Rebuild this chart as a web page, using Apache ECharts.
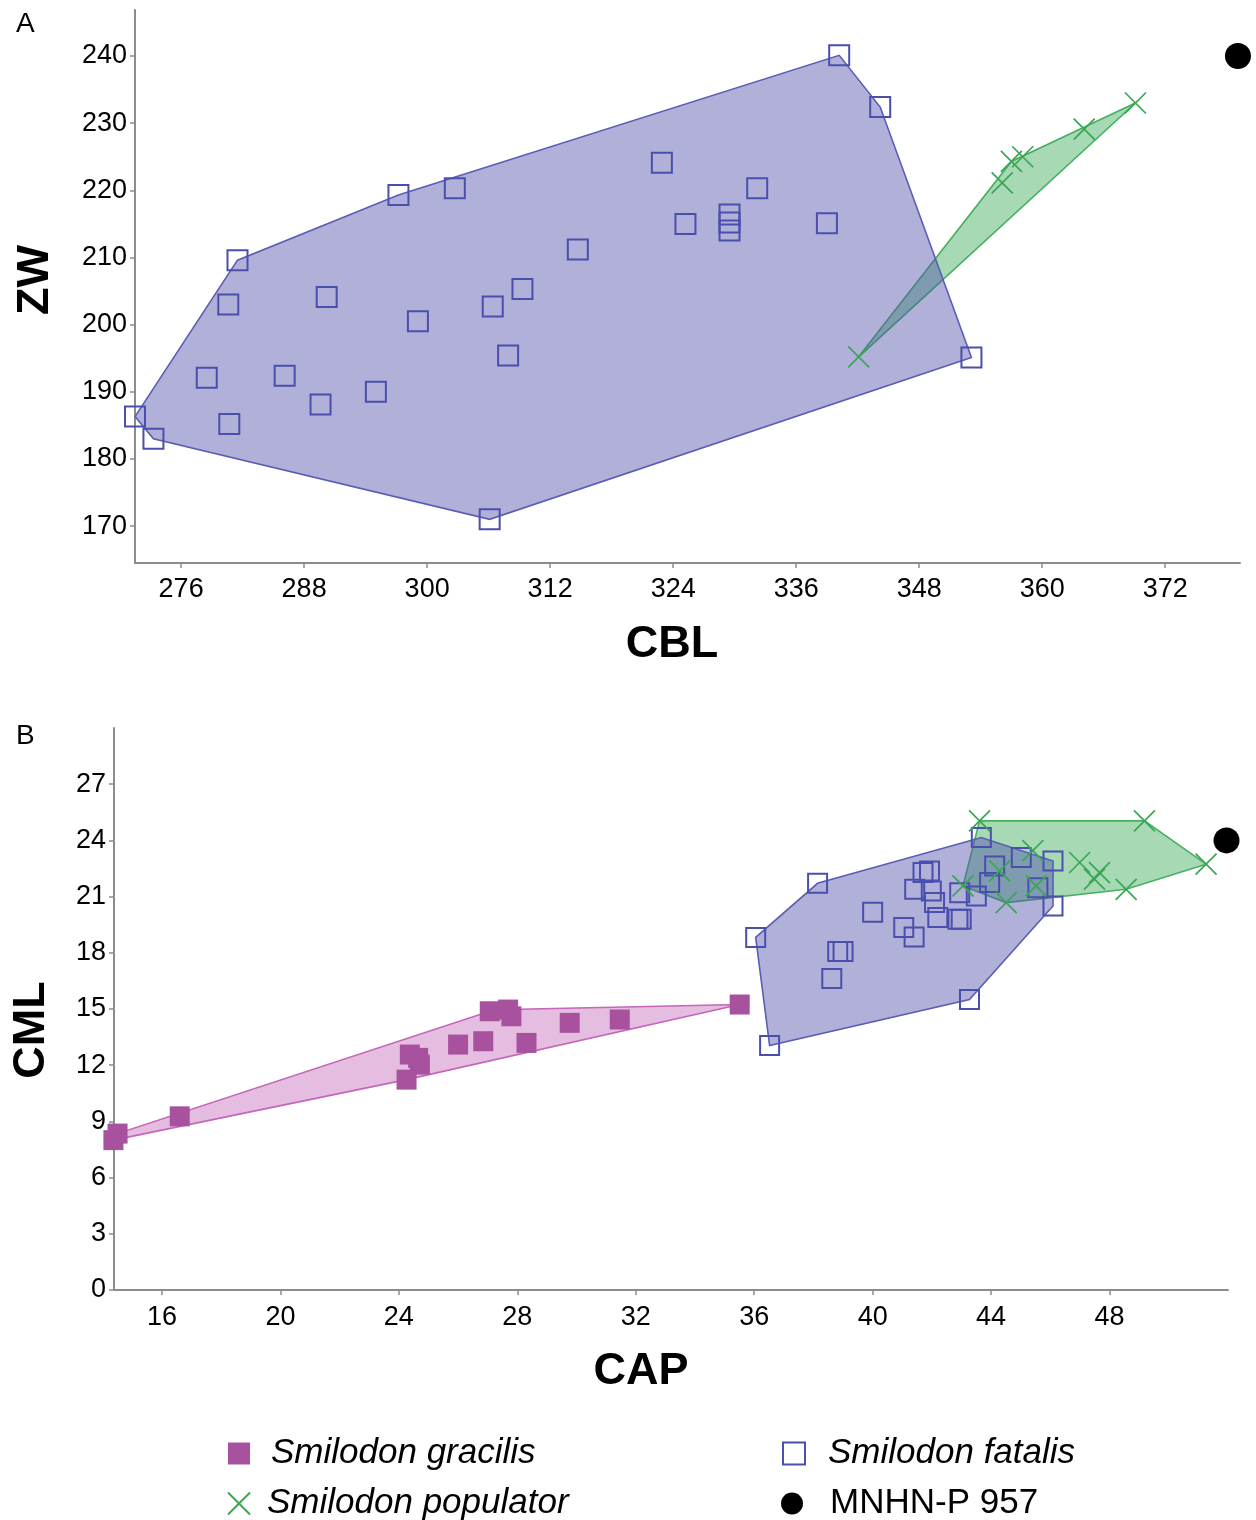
<!DOCTYPE html>
<html><head><meta charset="utf-8">
<script src="https://cdn.jsdelivr.net/npm/echarts@6/dist/echarts.min.js"></script>
<style>html,body{margin:0;padding:0;background:#fff}#c{width:1256px;height:1520px}</style>
</head><body><div id="c"></div>
<script>
// ---------- Panel A : CBL vs ZW ----------
const fatalisA = [[271.5,186.3],[273.3,183.0],[281.5,209.6],[280.6,203.0],[278.5,192.1],[280.7,185.2],[286.1,192.4],[290.2,204.1],[289.6,188.1],[295.0,190.0],[297.2,219.3],[299.1,200.5],[302.7,220.3],[306.1,171.0],[306.4,202.7],[307.9,195.4],[309.3,205.3],[314.7,211.2],[322.9,224.1],[325.2,215.0],[329.5,216.4],[329.5,215.2],[329.5,214.0],[332.2,220.3],[339.0,215.1],[340.2,240.1],[344.2,232.4],[353.1,195.1]];
const populatorA = [[342.1,195.2],[356.1,221.1],[357.0,224.3],[358.1,225.0],[364.1,229.1],[369.1,233.0]];
const mnhnA = [[379.1,240.0]];
const xTicksA = [276,288,300,312,324,336,348,360,372];
const yTicksA = [170,180,190,200,210,220,230,240];

// ---------- Panel B : CAP vs CML ----------
const gracilisB = [[14.36,8.0],[14.5,8.35],[16.6,9.27],[24.26,11.23],[24.37,12.57],[24.65,12.39],[24.71,12.03],[26.0,13.1],[26.85,13.28],[27.07,14.88],[27.69,14.97],[27.8,14.61],[28.31,13.19],[29.77,14.26],[31.46,14.44],[35.51,15.24]];
const fatalisB = [[36.05,18.82],[36.52,13.05],[38.14,21.71],[38.62,16.63],[38.82,18.07],[39.0,18.07],[40.0,20.16],[41.05,19.35],[41.4,18.85],[41.42,21.39],[41.7,22.28],[41.92,22.37],[41.98,21.3],[42.09,20.68],[42.2,19.88],[42.88,19.79],[42.99,19.79],[42.94,21.21],[43.5,21.03],[43.67,24.15],[44.12,22.64],[43.95,21.75],[45.02,23.09],[45.58,21.47],[46.09,22.9],[46.09,20.5],[43.27,15.51]];
const populatorB = [[43.61,25.04],[49.18,25.04],[51.26,22.73],[48.56,21.39],[46.99,22.82],[47.66,22.28],[47.49,21.93],[44.51,20.68],[43.05,21.57],[45.41,23.45],[44.29,22.37],[45.52,21.57]];
const mnhnB = [[51.95,24.0]];
const xTicksB = [16,20,24,28,32,36,40,44,48];
const yTicksB = [0,3,6,9,12,15,18,21,24,27];

const NAMES = {grac:'Smilodon gracilis', pop:'Smilodon populator', fat:'Smilodon fatalis', mn:'MNHN-P 957'};
const FONT = '"Liberation Sans", Arial, sans-serif';

function convexHull(points){
  const p = points.slice().sort((a,b)=>a[0]-b[0]||a[1]-b[1]);
  const cross=(o,a,b)=>(a[0]-o[0])*(b[1]-o[1])-(a[1]-o[1])*(b[0]-o[0]);
  const lower=[];
  for(const q of p){while(lower.length>=2&&cross(lower[lower.length-2],lower[lower.length-1],q)<=0)lower.pop();lower.push(q);}
  const upper=[];
  for(let i=p.length-1;i>=0;i--){const q=p[i];while(upper.length>=2&&cross(upper[upper.length-2],upper[upper.length-1],q)<=0)upper.pop();upper.push(q);}
  upper.pop();lower.pop();
  return lower.concat(upper);
}

function hullSeries(pts, gi, fill, stroke){
  const h = convexHull(pts);
  return {
    type:'custom', xAxisIndex:gi, yAxisIndex:gi, silent:true, clip:false,
    data:[h[0]],
    renderItem:(params, api)=>({
      type:'polygon',
      shape:{points:h.map(p=>api.coord(p))},
      style:{fill:fill, stroke:stroke, lineWidth:1.6}
    })
  };
}

const crossPath = 'path://M0,0L20,20M20,0L0,20';
const styles = {
  fat:{symbol:'rect', symbolSize:20, itemStyle:{color:'rgba(255,255,255,0)', borderColor:'#4a4fae', borderWidth:2, opacity:1}},
  pop:{symbol:crossPath, symbolSize:21, itemStyle:{color:'rgba(255,255,255,0)', borderColor:'#3aa655', borderWidth:1.7, opacity:1}},
  grac:{symbol:'rect', symbolSize:20, itemStyle:{color:'#a8529f', opacity:1}},
  mn:{symbol:'circle', symbolSize:26, itemStyle:{color:'#000', opacity:1}}
};
function scatter(key, data, gi, size){
  const s = styles[key];
  return {type:'scatter', name:NAMES[key], xAxisIndex:gi, yAxisIndex:gi, data:data, clip:false,
    symbol:s.symbol, symbolSize:size||s.symbolSize, itemStyle:s.itemStyle, emphasis:{disabled:true}};
}

function valueAxis(gi, min, max, ticks, margin){
  return {
    type:'value', gridIndex:gi, min:min, max:max,
    axisLine:{show:true, onZero:false, lineStyle:{color:'#8c8c8c', width:2}},
    axisTick:{show:true, length:5, customValues:ticks, lineStyle:{color:'#8c8c8c', width:1.5}},
    axisLabel:{customValues:ticks, fontSize:27, color:'#000', fontFamily:FONT, margin:margin},
    splitLine:{show:false}
  };
}

const legendFmt = n => n===NAMES.mn ? '{n|'+n+'}' : '{i|'+n+'}';
function legendOne(name, left, top, pad){
  return {
    data:[name], left:left, top:top, itemWidth:22, itemHeight:22, selectedMode:false,
    formatter:legendFmt,
    textStyle:{fontSize:35, color:'#000', fontFamily:FONT,
      rich:{
        i:{fontSize:35, fontStyle:'italic', fontFamily:FONT, color:'#000', padding:[0,0,0,pad]},
        n:{fontSize:35, fontFamily:FONT, color:'#000', padding:[0,0,0,pad]}
      }}
  };
}

const chart = echarts.init(document.getElementById('c'), null, {renderer:'canvas'});
chart.setOption({
  animation:false,
  backgroundColor:'#fff',
  grid:[
    {left:135, top:10, width:1105, height:553},
    {left:114, top:728, width:1114, height:562}
  ],
  xAxis:[
    valueAxis(0, 271.5, 379.3, xTicksA, 13),
    valueAxis(1, 14.38, 52.0, xTicksB, 14)
  ],
  yAxis:[
    valueAxis(0, 164.5, 246.85, yTicksA, 8),
    valueAxis(1, 0, 30, yTicksB, 8)
  ],
  legend:[
    legendOne(NAMES.grac, 223, 1431, 16),
    legendOne(NAMES.pop, 222, 1481, 12),
    legendOne(NAMES.fat, 777, 1431, 18),
    legendOne(NAMES.mn, 776, 1481, 22)
  ],
  graphic:[
    {type:'text', left:16, top:10, style:{text:'A', fontSize:28, fontFamily:FONT, fill:'#000'}},
    {type:'text', left:16, top:722, style:{text:'B', fontSize:28, fontFamily:FONT, fill:'#000'}},
    {type:'text', x:36, y:280, rotation:Math.PI/2, style:{text:'ZW', fontSize:45, fontWeight:'bold', fontFamily:FONT, fill:'#000', align:'center', verticalAlign:'middle'}},
    {type:'text', x:672, y:645, style:{text:'CBL', fontSize:45, fontWeight:'bold', fontFamily:FONT, fill:'#000', align:'center', verticalAlign:'middle'}},
    {type:'text', x:32, y:1030, rotation:Math.PI/2, style:{text:'CML', fontSize:45, fontWeight:'bold', fontFamily:FONT, fill:'#000', align:'center', verticalAlign:'middle'}},
    {type:'text', x:641, y:1372, style:{text:'CAP', fontSize:45, fontWeight:'bold', fontFamily:FONT, fill:'#000', align:'center', verticalAlign:'middle'}}
  ],
  series:[
    hullSeries(populatorA, 0, 'rgba(60,170,90,0.45)', '#45b060'),
    hullSeries(fatalisA, 0, 'rgba(80,80,170,0.45)', '#5a5db5'),
    hullSeries(gracilisB, 1, 'rgba(190,90,180,0.4)', '#c566b8'),
    hullSeries(populatorB, 1, 'rgba(60,170,90,0.45)', '#45b060'),
    hullSeries(fatalisB, 1, 'rgba(80,80,170,0.45)', '#5a5db5'),
    scatter('grac', gracilisB, 1),
    scatter('fat', fatalisA, 0),
    scatter('fat', fatalisB, 1, 19),
    scatter('pop', populatorA, 0),
    scatter('pop', populatorB, 1),
    scatter('mn', mnhnA, 0),
    scatter('mn', mnhnB, 1)
  ]
});
</script>
</body></html>
